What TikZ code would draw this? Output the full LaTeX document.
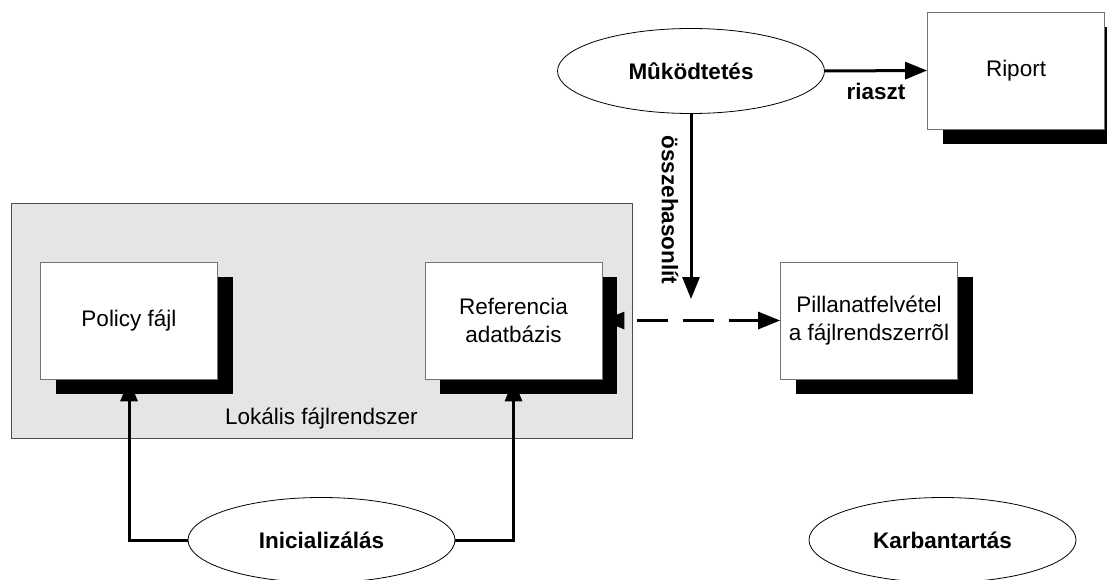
\documentclass[tikz,border=0pt]{standalone}
\usepackage{fontspec}
\setmainfont{Liberation Sans}
\usetikzlibrary{arrows.meta,shapes.geometric,shadows}
\pgfdeclarelayer{back}
\pgfdeclarelayer{links}
\pgfsetlayers{back,links,main}
\begin{document}
\begin{tikzpicture}[x=1pt,y=-1pt,
  plain/.style={font=\fontsize{22.5}{27.5}\selectfont},
  strong/.style={font=\fontsize{22.5}{27.5}\selectfont\bfseries},
  boxnode/.style={rectangle, draw=black!55, line width=0.8pt, fill=white,
    minimum width=177pt, minimum height=117pt, inner sep=0pt, align=center, plain,
    drop shadow={shadow xshift=15pt, shadow yshift=-15pt, fill=black, opacity=1}},
  process/.style={ellipse, draw=black, line width=0.8pt, fill=white,
    minimum width=267pt, minimum height=85pt, inner sep=0pt, strong},
  flow/.style={line width=3pt, -{Triangle[length=22pt,width=17pt]}},
]
\useasboundingbox (0,0) rectangle (1107,580);

% local file system container
\begin{pgfonlayer}{back}
  \node[draw=black!70, line width=0.8pt, fill=black!10, minimum width=621pt,
        minimum height=235pt, inner sep=0pt] (fs) at (321.5,320.5) {};
  \node[plain] (fslabel) at ([yshift=20pt]fs.south) {Lokális fájlrendszer};
\end{pgfonlayer}

% files and reports
\node[boxnode] (policy) at (129,320.5) {Policy fájl};
\node[boxnode] (refdb) at (513.5,320.5) {Referencia\\adatbázis};
\node[boxnode] (snap) at (869,320.5) {Pillanatfelvétel\\a fájlrendszerrõl};
\node[boxnode] (report) at (1016,70.5) {Riport};

% processes
\node[process] (run) at (691,71) {Mûködtetés};
\node[process] (init) at (321.5,540) {Inicializálás};
\node[process] (maint) at (942.5,540) {Karbantartás};

\coordinate (cmpend) at (691,299);

% connectors
\begin{pgfonlayer}{links}
  \draw[flow] (run.east) -- node[strong, yshift=-21pt] (alarmlbl) {riaszt} (report.west);
  \draw[flow] (run.south) -- (cmpend);
  \node[strong, rotate=-90] (cmplbl) at (670,210) {összehasonlít};
  \draw[line width=3pt, {Triangle[length=22pt,width=17pt]}-{Triangle[length=22pt,width=17pt]},
        dash pattern=on 31pt off 15pt, dash phase=33pt] (refdb.east) -- (snap.west);
  \draw[flow] (init.west) -| (policy.south);
  \draw[flow] (init.east) -| (refdb.south);
\end{pgfonlayer}
\end{tikzpicture}
\end{document}
